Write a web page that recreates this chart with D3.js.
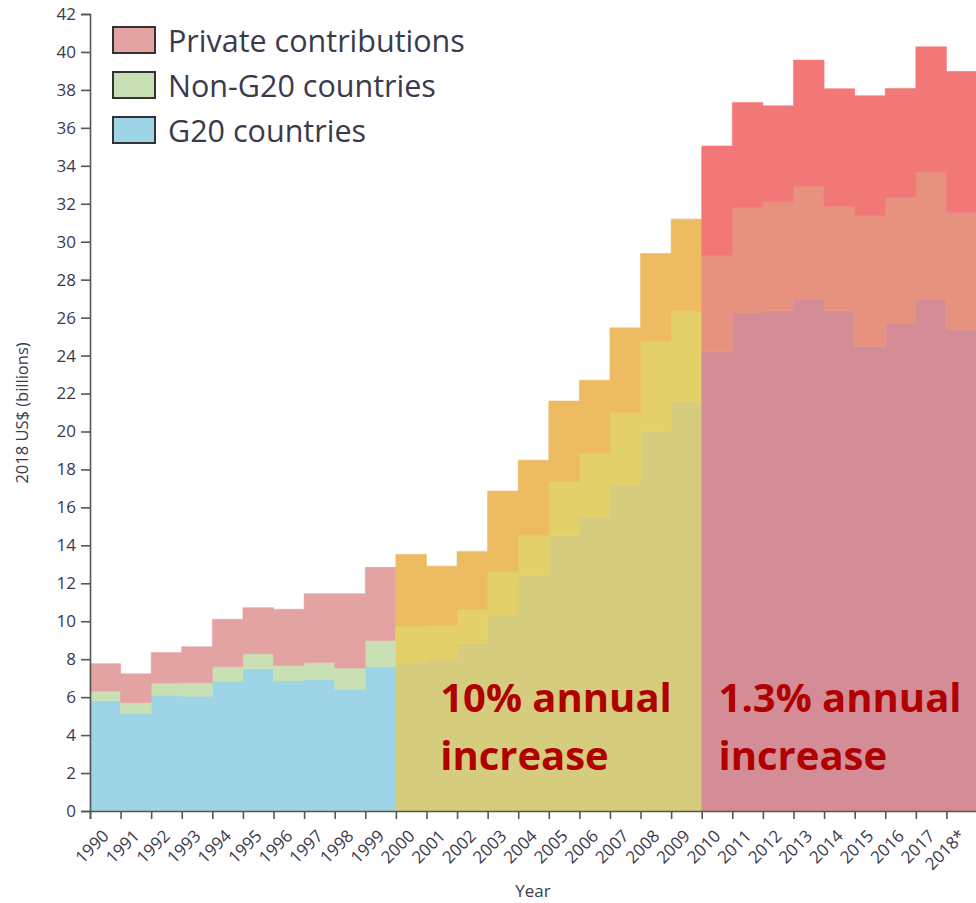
<!DOCTYPE html>
<html>
<head>
<meta charset="utf-8">
<script src="https://cdn.jsdelivr.net/npm/d3@7"></script>
<style>
  body { margin: 0; background: #fff; }
  svg { display: block; }
</style>
</head>
<body>
<svg id="chart"></svg>
<script>
// Datos (miles de millones de US$ de 2018)
const years = [1990, 1991, 1992, 1993, 1994, 1995, 1996, 1997, 1998, 1999,
               2000, 2001, 2002, 2003, 2004, 2005, 2006, 2007, 2008, 2009,
               2010, 2011, 2012, 2013, 2014, 2015, 2016, 2017, 2018];
const yearLabels = years.map(y => y === 2018 ? "2018*" : String(y));

const g20 = [5.8, 5.15, 6.1, 6.05, 6.8, 7.48, 6.85, 6.94, 6.41, 7.62,
             7.83, 7.96, 8.82, 10.33, 12.4, 14.5, 15.5, 17.2, 20.0, 21.58,
             24.2, 26.27, 26.36, 26.96, 26.36, 24.46, 25.7, 26.96, 25.38];
const nonG20 = [0.52, 0.56, 0.65, 0.71, 0.8, 0.81, 0.82, 0.89, 1.12, 1.37,
                1.92, 1.84, 1.82, 2.28, 2.14, 2.89, 3.35, 3.8, 4.77, 4.77,
                5.1, 5.53, 5.74, 5.97, 5.52, 6.91, 6.63, 6.72, 6.14];
const privateContrib = [1.44, 1.52, 1.6, 1.9, 2.5, 2.42, 2.96, 3.62, 3.92, 3.85,
                        3.77, 3.1, 3.04, 4.25, 3.95, 4.21, 3.85, 4.46, 4.61, 4.84,
                        5.74, 5.54, 5.06, 6.64, 6.18, 6.32, 5.75, 6.59, 7.45];

const yTicks = d3.range(0, 43, 2);

// Tres periodos, cada uno con su paleta (G20, no G20, privado)
const eras = [
  { start: 0, end: 10, colors: ["#9dd5e6", "#c8e0b4", "#e3a3a3"] },
  { start: 10, end: 20, colors: ["#d5cc7d", "#e4d068", "#edbb62"] },
  { start: 20, end: 29, colors: ["#d48d96", "#e6927e", "#f27878"] }
];

const legendItems = [
  { text: "Private contributions", color: "#e3a3a3" },
  { text: "Non-G20 countries", color: "#c8e0b4" },
  { text: "G20 countries", color: "#9dd5e6" }
];

const notes = [
  { lines: ["10% annual", "increase"], year: 2001.45 },
  { lines: ["1.3% annual", "increase"], year: 2010.55 }
];

const width = 976, height = 903;
const textColor = "#3a3a4c";
const svg = d3.select("#chart").attr("width", width).attr("height", height);

const x = d3.scaleLinear().domain([1990, 2019]).range([90, 977]);
const y = d3.scaleLinear().domain([0, 42]).range([811, 14]);

const table = years.map((yr, i) => ({
  year: yr, g20: g20[i], non: nonG20[i], priv: privateContrib[i]
}));
const stack = d3.stack().keys(["g20", "non", "priv"]);
const series = stack(table);

const area = d3.area()
  .curve(d3.curveStepAfter)
  .x(d => x(d.year))
  .y0(d => y(d.y0))
  .y1(d => y(d.y1));

const plot = svg.append("g");
eras.forEach(era => {
  series.forEach((s, k) => {
    const pts = [];
    for (let i = era.start; i < era.end; i++) {
      pts.push({ year: years[i], y0: s[i][0], y1: s[i][1] });
    }
    const last = pts[pts.length - 1];
    pts.push({ year: last.year + 1, y0: last.y0, y1: last.y1 });
    plot.append("path")
      .datum(pts)
      .attr("d", area)
      .attr("fill", era.colors[k])
      .attr("stroke", era.colors[k])
      .attr("stroke-width", 0.6);
  });
});

// Ejes
const axisColor = "#555";
const yAxis = svg.append("g")
  .attr("transform", "translate(90,0)")
  .call(d3.axisLeft(y).tickValues(yTicks).tickSize(9).tickPadding(5));
const xAxis = svg.append("g")
  .attr("transform", "translate(0,811)")
  .call(d3.axisBottom(x).tickValues(years.concat([2019])).tickSize(8).tickFormat(""));

[yAxis, xAxis].forEach(a => {
  a.select(".domain").attr("stroke", axisColor).attr("stroke-width", 1.6);
  a.selectAll(".tick line").attr("stroke", axisColor).attr("stroke-width", 1.6);
});
yAxis.selectAll(".tick text")
  .attr("fill", textColor)
  .style("font-family", "'Open Sans', sans-serif")
  .style("font-size", "17px");

svg.append("g").selectAll("text")
  .data(years)
  .join("text")
  .attr("transform", d => `translate(${x(d) + 20},${837}) rotate(-45)`)
  .attr("text-anchor", "end")
  .attr("fill", textColor)
  .style("font-family", "'Open Sans', sans-serif")
  .style("font-size", "17px")
  .text((d, i) => yearLabels[i]);

svg.append("text")
  .attr("x", 533).attr("y", 897)
  .attr("text-anchor", "middle")
  .attr("fill", textColor)
  .style("font-family", "'Open Sans', sans-serif")
  .style("font-size", "17px")
  .text("Year");

svg.append("text")
  .attr("transform", "translate(28,413) rotate(-90)")
  .attr("text-anchor", "middle")
  .attr("fill", textColor)
  .style("font-family", "'Open Sans', sans-serif")
  .style("font-size", "16.5px")
  .text("2018 US$ (billions)");

// Leyenda
const legend = svg.append("g").selectAll("g")
  .data(legendItems)
  .join("g")
  .attr("transform", (d, i) => `translate(113,${27 + i * 45})`);
legend.append("rect")
  .attr("width", 42).attr("height", 26)
  .attr("fill", d => d.color)
  .attr("stroke", "#333").attr("stroke-width", 2);
legend.append("text")
  .attr("x", 55).attr("y", 25)
  .attr("fill", textColor)
  .style("font-family", "'Open Sans', sans-serif")
  .style("font-size", "30.5px")
  .text(d => d.text);

// Anotaciones
notes.forEach(n => {
  const t = svg.append("text")
    .attr("fill", "#b00000")
    .style("font-family", "'Open Sans', sans-serif")
    .style("font-weight", "bold")
    .style("font-size", "40px");
  n.lines.forEach((line, i) => {
    t.append("tspan")
      .attr("x", x(n.year))
      .attr("y", 712 + i * 58)
      .text(line);
  });
});
</script>
</body>
</html>
